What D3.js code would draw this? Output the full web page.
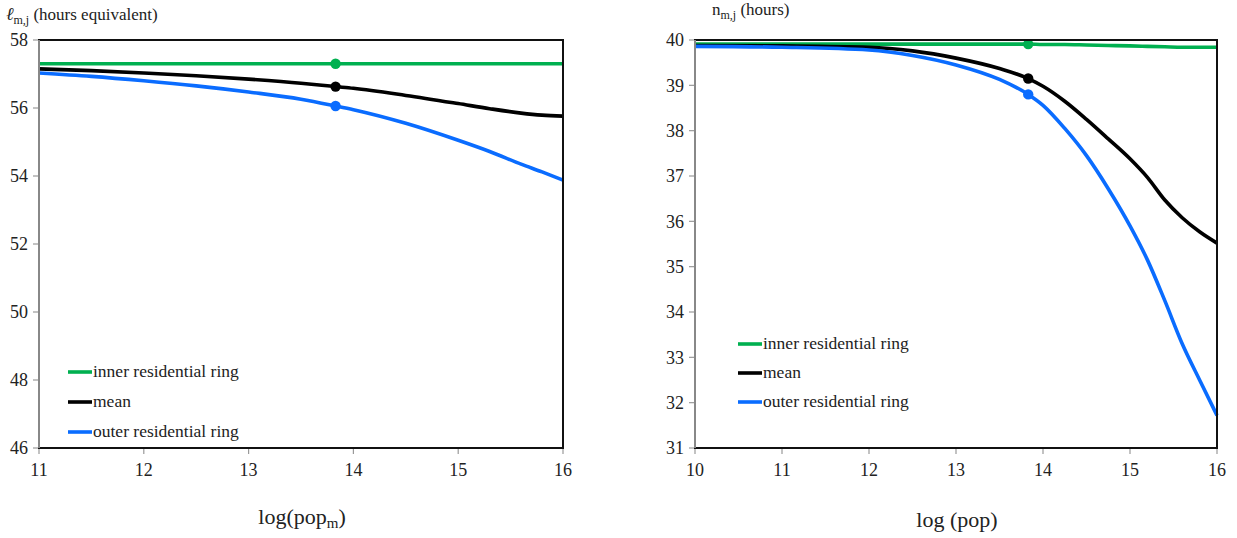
<!DOCTYPE html>
<html>
<head>
<meta charset="utf-8">
<script src="https://cdn.jsdelivr.net/npm/d3@7"></script>
<style>
  html, body { margin: 0; padding: 0; background: #fff; }
  text { font-family: "Liberation Serif", "Tinos", "Times New Roman", "DejaVu Serif", serif; }
</style>
</head>
<body>
<svg id="chart" width="1237" height="538"></svg>
<script>
// ---- Left panel: leisure (hours equivalent) against log(pop_m)
const leftX = [11, 11.5, 12, 12.5, 13, 13.5, 13.83, 14, 14.5, 15, 15.3, 15.6, 15.8, 16];
const leftInner = [57.3, 57.3, 57.3, 57.3, 57.3, 57.3, 57.3, 57.3, 57.3, 57.3, 57.3, 57.3, 57.3, 57.3];
const leftMean  = [57.15, 57.1, 57.03, 56.95, 56.85, 56.73, 56.63, 56.58, 56.37, 56.13, 55.98, 55.85, 55.79, 55.76];
const leftOuter = [57.03, 56.93, 56.8, 56.65, 56.47, 56.26, 56.06, 55.95, 55.55, 55.05, 54.72, 54.35, 54.12, 53.88];
const leftYTicks = [46, 48, 50, 52, 54, 56, 58];
const leftXTicks = [11, 12, 13, 14, 15, 16];

// ---- Right panel: working hours against log(pop)
const rightX = [10, 11, 12, 12.5, 13, 13.5, 13.83, 14, 14.25, 14.5, 14.75, 15, 15.2, 15.4, 15.6, 15.8, 16];
const rightInner = [39.91, 39.91, 39.91, 39.91, 39.91, 39.91, 39.91, 39.9, 39.9, 39.89, 39.88, 39.87, 39.86, 39.85, 39.84, 39.84, 39.84];
const rightMean  = [39.88, 39.87, 39.84, 39.76, 39.6, 39.37, 39.15, 38.98, 38.65, 38.25, 37.82, 37.38, 36.97, 36.47, 36.08, 35.77, 35.52];
const rightOuter = [39.86, 39.84, 39.78, 39.66, 39.45, 39.13, 38.8, 38.56, 38.05, 37.45, 36.72, 35.9, 35.15, 34.25, 33.3, 32.5, 31.72];
const rightYTicks = [31, 32, 33, 34, 35, 36, 37, 38, 39, 40];
const rightXTicks = [10, 11, 12, 13, 14, 15, 16];

// Highlighted point on each curve
const markerX = 13.83;

const seriesNames = ["inner residential ring", "mean", "outer residential ring"];
const seriesColors = ["#00b050", "#000000", "#0a6cff"];

const svg = d3.select("#chart");

function drawPanel(cfg) {
  const x = d3.scaleLinear().domain(cfg.xDomain).range([cfg.left, cfg.right]);
  const y = d3.scaleLinear().domain(cfg.yDomain).range([cfg.bottom, cfg.top]);
  const g = svg.append("g");

  // y ticks and labels
  g.selectAll(".yt").data(cfg.yTicks).enter().append("line")
    .attr("x1", cfg.left - 6).attr("x2", cfg.left)
    .attr("y1", d => y(d)).attr("y2", d => y(d))
    .attr("stroke", "#999").attr("stroke-width", 1.2);
  g.selectAll(".yl").data(cfg.yTicks).enter().append("text")
    .attr("x", cfg.left - 11).attr("y", d => y(d)).attr("dy", "0.35em")
    .attr("text-anchor", "end").attr("font-size", 18).attr("fill", "#222")
    .text(d => d);

  // x ticks and labels
  g.selectAll(".xt").data(cfg.xTicks).enter().append("line")
    .attr("x1", d => x(d)).attr("x2", d => x(d))
    .attr("y1", cfg.bottom).attr("y2", cfg.bottom + 6)
    .attr("stroke", "#999").attr("stroke-width", 1.2);
  g.selectAll(".xl").data(cfg.xTicks).enter().append("text")
    .attr("x", d => x(d)).attr("y", cfg.bottom + 28)
    .attr("text-anchor", "middle").attr("font-size", 18).attr("fill", "#222")
    .text(d => d);

  // series lines
  const line = d3.line().x(d => x(d[0])).y(d => y(d[1])).curve(d3.curveMonotoneX);
  cfg.series.forEach((vals, i) => {
    const pts = cfg.xs.map((xv, k) => [xv, vals[k]]);
    g.append("path").datum(pts)
      .attr("d", line).attr("fill", "none")
      .attr("stroke", seriesColors[i]).attr("stroke-width", 3.6)
      .attr("stroke-linejoin", "round");
    const k = cfg.xs.indexOf(markerX);
    g.append("circle")
      .attr("cx", x(markerX)).attr("cy", y(vals[k])).attr("r", 5.2)
      .attr("fill", seriesColors[i]);
  });

  // plot frame
  g.append("rect")
    .attr("x", cfg.left).attr("y", cfg.top)
    .attr("width", cfg.right - cfg.left).attr("height", cfg.bottom - cfg.top)
    .attr("fill", "none").attr("stroke", "#111").attr("stroke-width", 2);
  g.append("line")
    .attr("x1", cfg.left).attr("x2", cfg.left)
    .attr("y1", cfg.top).attr("y2", cfg.bottom)
    .attr("stroke", "#888").attr("stroke-width", 2);

  // legend
  seriesNames.forEach((name, i) => {
    const ly = cfg.legendY + i * cfg.legendGap;
    g.append("line")
      .attr("x1", cfg.legendX).attr("x2", cfg.legendX + 24)
      .attr("y1", ly).attr("y2", ly)
      .attr("stroke", seriesColors[i]).attr("stroke-width", 3.6);
    g.append("text")
      .attr("x", cfg.legendX + 25).attr("y", ly).attr("dy", "0.3em")
      .attr("font-size", 17.5).attr("fill", "#222")
      .text(name);
  });

  // x-axis title
  const xt = g.append("text")
    .attr("x", cfg.xTitleX).attr("y", cfg.xTitleY)
    .attr("text-anchor", "middle").attr("font-size", 22).attr("fill", "#222");
  cfg.xTitle.forEach(part => {
    const t = xt.append("tspan").text(part.text);
    if (part.sub) t.attr("font-size", 15).attr("dy", 4);
    else if (part.after) t.attr("dy", -4);
  });

  // y-axis title
  const yt = g.append("text")
    .attr("x", cfg.yTitleX).attr("y", cfg.yTitleY)
    .attr("font-size", 17).attr("fill", "#222");
  cfg.yTitle.forEach(part => {
    const t = yt.append("tspan").text(part.text);
    if (part.italic) t.attr("font-style", "italic").attr("font-size", 18);
    if (part.sub) t.attr("font-size", 12).attr("dy", 4);
    else if (part.after) t.attr("dy", -4);
  });
}

drawPanel({
  left: 39, right: 563, top: 40, bottom: 448,
  xDomain: [11, 16], yDomain: [46, 58],
  xs: leftX, series: [leftInner, leftMean, leftOuter],
  yTicks: leftYTicks, xTicks: leftXTicks,
  legendX: 68, legendY: 372, legendGap: 30,
  xTitle: [{ text: "log(pop" }, { text: "m", sub: true }, { text: ")", after: true }],
  xTitleX: 302, xTitleY: 524,
  yTitle: [{ text: "ℓ", italic: true }, { text: "m,j", sub: true }, { text: " (hours equivalent)", after: true }],
  yTitleX: 6, yTitleY: 20
});

drawPanel({
  left: 695, right: 1217, top: 40, bottom: 448,
  xDomain: [10, 16], yDomain: [31, 40],
  xs: rightX, series: [rightInner, rightMean, rightOuter],
  yTicks: rightYTicks, xTicks: rightXTicks,
  legendX: 738, legendY: 344, legendGap: 29,
  xTitle: [{ text: "log (pop)" }],
  xTitleX: 957, xTitleY: 527,
  yTitle: [{ text: "n" }, { text: "m,j", sub: true }, { text: " (hours)", after: true }],
  yTitleX: 712, yTitleY: 15
});
</script>
</body>
</html>
